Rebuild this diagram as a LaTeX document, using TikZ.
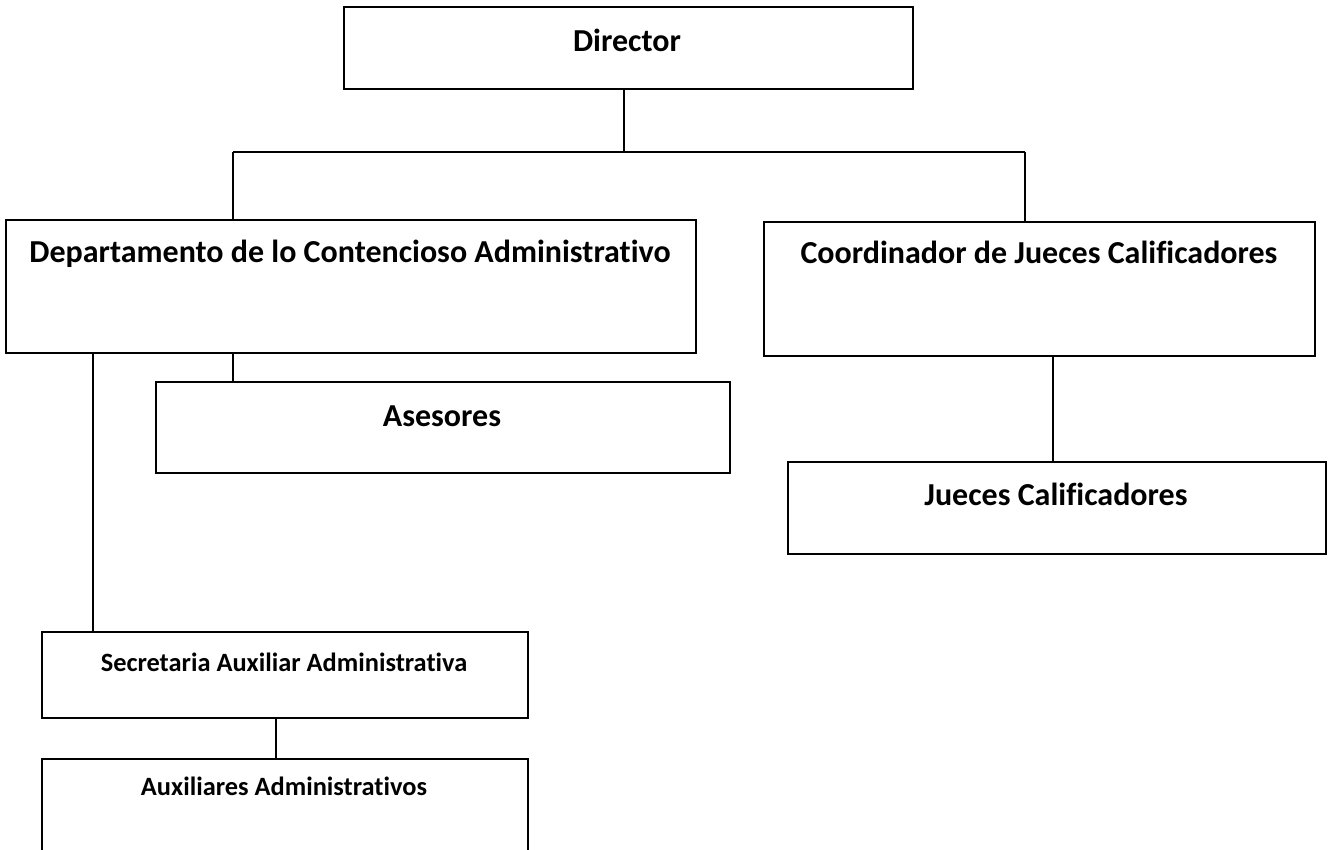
\documentclass[tikz,border=0pt]{standalone}
\usepackage{fontspec}
\setmainfont{Carlito}[Ligatures=NoCommon]
\begin{document}
\begin{tikzpicture}[x=1pt,y=-1pt,
  box/.style={draw,line width=1.7pt,inner sep=0pt,anchor=north west},
  lbl/.style={font=\bfseries\fontsize{32}{38}\selectfont,inner sep=0pt,anchor=base},
  slbl/.style={font=\bfseries\fontsize{26.4}{31}\selectfont,inner sep=0pt,anchor=base},
  conn/.style={line width=1.2pt}]
\clip (0,0) rectangle (1330,850);
\fill[white] (0,0) rectangle (1330,850);
% boxes
\node[box,minimum width=569pt,minimum height=82pt] (dir) at (343,6) {};
\node[box,minimum width=690pt,minimum height=133pt] (dept) at (5,219) {};
\node[box,minimum width=551pt,minimum height=134pt] (coord) at (763,221) {};
\node[box,minimum width=574pt,minimum height=91pt] (ases) at (155,381) {};
\node[box,minimum width=538pt,minimum height=92pt] (jueces) at (787,461) {};
\node[box,minimum width=486pt,minimum height=86pt] (sec) at (41,631) {};
\node[box,minimum width=486pt,minimum height=110pt] (aux) at (41,758) {};
% texts
\node[lbl] (tdir) at (627,52) {Director};
\node[lbl] (tdept) at (350,263) {Departamento de lo Contencioso Administrativo};
\node[lbl] (tcoord) at (1039,264) {Coordinador de Jueces Calificadores};
\node[lbl] (tases) at (442,426) {Asesores};
\node[lbl] (tjueces) at (1056,505) {Jueces Calificadores};
\node[slbl] (tsec) at (284,671) {Secretaria Auxiliar Administrativa};
\node[slbl] (taux) at (284,795) {Auxiliares Administrativos};
% connectors
\coordinate (top) at (624,152);
\coordinate (bl) at (233,152);
\coordinate (br) at (1025,152);
\coordinate (xs) at (93,0);
\coordinate (xa) at (276,0);
\coordinate (xj) at (1053,0);
\draw[conn] (dir.south -| top) -- (top);
\draw[conn] (bl) -- (br);
\draw[conn] (bl) -- (bl |- dept.north);
\draw[conn] (br) -- (br |- coord.north);
\draw[conn] (dept.south -| bl) -- (bl |- ases.north);
\draw[conn] (dept.south -| xs) -- (xs |- sec.north);
\draw[conn] (sec.south -| xa) -- (xa |- aux.north);
\draw[conn] (coord.south -| xj) -- (xj |- jueces.north);
\end{tikzpicture}
\end{document}
